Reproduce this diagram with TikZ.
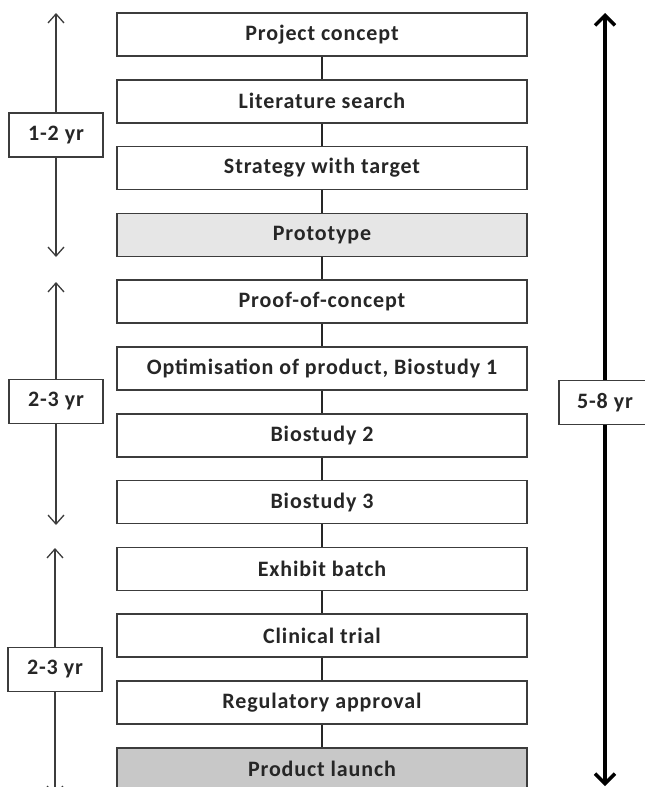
\documentclass[tikz,border=0pt]{standalone}
\usepackage{fontspec}
\setmainfont{Carlito}
\newfontfamily\labelfont[LetterSpace=4]{Carlito}
\usetikzlibrary{arrows.meta}
\definecolor{edge}{HTML}{3C3C3C}
\definecolor{txt}{HTML}{262626}
\definecolor{protofill}{HTML}{E6E6E6}
\definecolor{launchfill}{HTML}{C8C8C8}
\tikzset{
  stepbox/.style={draw=edge, line width=1.5pt, fill=white, minimum width=410pt, minimum height=43pt, inner sep=0pt, text=txt, font=\labelfont\fontsize{22}{26}\selectfont\bfseries},
  yrbox/.style={draw=edge, line width=1.5pt, fill=white, minimum width=94pt, minimum height=44pt, inner sep=0pt, text=txt, font=\labelfont\fontsize{22}{26}\selectfont\bfseries},
  link/.style={draw=black!85, line width=2pt},
  thinarrow/.style={draw=edge, line width=1.3pt, -{Straight Barb[length=9pt, width=16pt, line width=1.3pt]}},
  thickarrow/.style={draw=black, line width=3.5pt, -{Straight Barb[length=10pt, width=20pt, line width=3.5pt]}}
}
\begin{document}
\begin{tikzpicture}[x=1pt, y=-1pt]
\useasboundingbox (0,0) rectangle (645,787);
\clip (0,0) rectangle (645,787);
% steps
\node[stepbox] (s1) at (322,34.5) {Project concept};
\node[stepbox] (s2) at (322,101.3) {Literature search};
\node[stepbox] (s3) at (322,168.1) {Strategy with target};
\node[stepbox, fill=protofill] (s4) at (322,234.9) {Prototype};
\node[stepbox] (s5) at (322,301.7) {Proof-of-concept};
\node[stepbox] (s6) at (322,368.5) {Optimisation of product, Biostudy 1};
\node[stepbox] (s7) at (322,435.3) {Biostudy 2};
\node[stepbox] (s8) at (322,502.1) {Biostudy 3};
\node[stepbox] (s9) at (322,568.9) {Exhibit batch};
\node[stepbox] (s10) at (322,635.7) {Clinical trial};
\node[stepbox] (s11) at (322,702.5) {Regulatory approval};
\node[stepbox, fill=launchfill] (s12) at (322,769.3) {Product launch};
% links
\foreach \a/\b in {s1/s2,s2/s3,s3/s4,s4/s5,s5/s6,s6/s7,s7/s8,s8/s9,s9/s10,s10/s11,s11/s12}
  \draw[link] (\a.south) -- (\b.north);
% left duration arrows
\node[yrbox] (l1) at (56,135) {1-2 yr};
\node[yrbox] (l2) at (56,401.5) {2-3 yr};
\node[yrbox] (l3) at (55,669.5) {2-3 yr};
\coordinate (l1t) at (56,13);
\coordinate (l1b) at (56,257);
\coordinate (l2t) at (56,282);
\coordinate (l2b) at (56,525);
\coordinate (l3t) at (55,548);
\coordinate (l3b) at (55,796);
\draw[thinarrow] (l1) -- (l1t);
\draw[thinarrow] (l1) -- (l1b);
\draw[thinarrow] (l2) -- (l2t);
\draw[thinarrow] (l2) -- (l2b);
\draw[thinarrow] (l3) -- (l3t);
\draw[thinarrow] (l3) -- (l3b);
% right total arrow
\node[yrbox, minimum width=92pt] (r) at (605,402.5) {5-8 yr};
\coordinate (rt) at (605,13);
\coordinate (rb) at (605,786);
\draw[thickarrow] (r) -- (rt);
\draw[thickarrow] (r) -- (rb);
\end{tikzpicture}
\end{document}
